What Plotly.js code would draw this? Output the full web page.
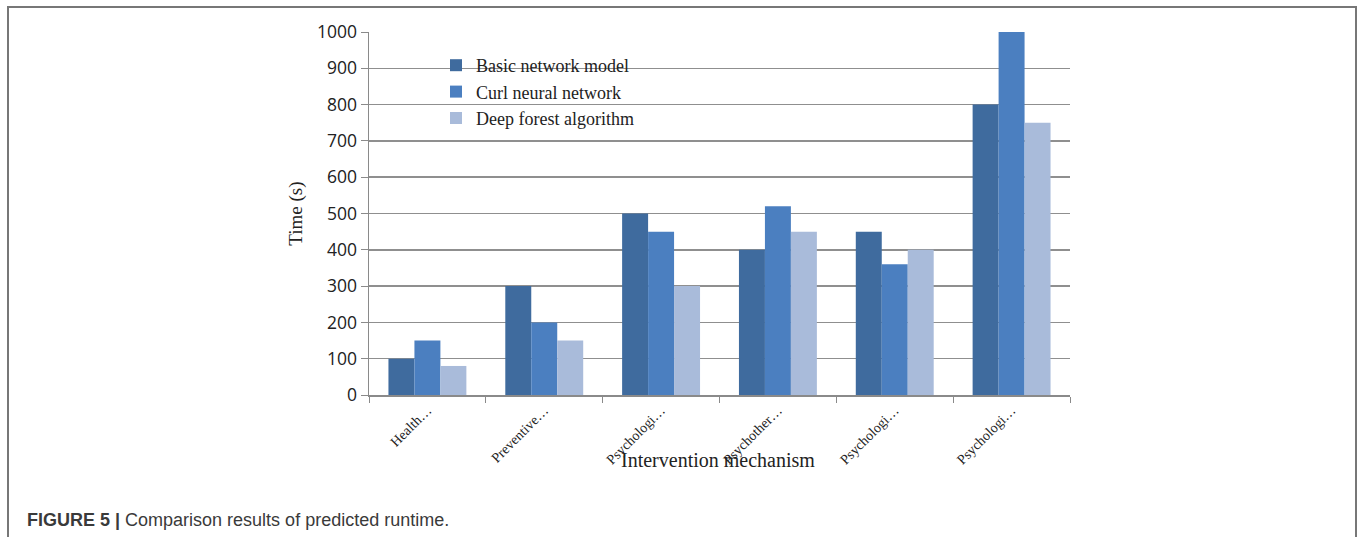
<!DOCTYPE html>
<html>
<head>
<meta charset="utf-8">
<script src="https://cdn.plot.ly/plotly-3.0.1.min.js"></script>
<style>
html,body{margin:0;padding:0;background:#fff;}
#chart{width:1360px;height:537px;}
</style>
</head>
<body>
<div id="chart"></div>
<script>
const categories = ["Health…", "Preventive…", "Psychologi…", "Psychother…", "Psychologi…", "Psychologi…"];
const seriesNames = ["Basic network model", "Curl neural network", "Deep forest algorithm"];
const basicNetwork = [100, 300, 500, 400, 450, 800];
const curlNeural = [150, 200, 450, 520, 360, 1000];
const deepForest = [80, 150, 300, 450, 400, 750];
const yTicks = [0, 100, 200, 300, 400, 500, 600, 700, 800, 900, 1000];
const colors = ["#3F6B9E", "#4B7FC0", "#A9BBDA"];

const ids = categories.map((c, i) => "c" + i);
const values = [basicNetwork, curlNeural, deepForest];
const traces = values.map((v, k) => ({
  type: "bar",
  name: seriesNames[k],
  x: ids,
  y: v,
  marker: {color: colors[k], line: {width: 0}},
  hoverinfo: "y+name"
}));

const L = 369, R = 1070, T = 32, B = 395, W = 1360, H = 537;
const px2x = p => (p - L) / (R - L);
const py2y = p => (B - p) / (B - T);

const layout = {
  width: W, height: H,
  margin: {l: L, r: W - R, t: T, b: H - B, pad: 0},
  paper_bgcolor: "#fff",
  plot_bgcolor: "#fff",
  barmode: "group",
  bargap: 0.333,
  bargroupgap: 0,
  showlegend: true,
  legend: {
    x: px2x(436), y: py2y(47), xanchor: "left", yanchor: "top",
    bgcolor: "rgba(0,0,0,0)",
    font: {family: "Liberation Serif, Times New Roman, serif", size: 18, color: "#222"},
    itemwidth: 30,
    tracegroupgap: 0
  },
  xaxis: {
    type: "category",
    tickmode: "array",
    tickvals: ids,
    ticktext: categories,
    tickangle: -45,
    tickson: "boundaries",
    ticks: "outside",
    ticklen: 6,
    tickcolor: "#8a8a8a",
    showline: true,
    linecolor: "#8a8a8a",
    linewidth: 1.5,
    showgrid: false,
    zeroline: false,
    tickfont: {family: "Liberation Serif, Times New Roman, serif", size: 14, color: "#222"}
  },
  yaxis: {
    range: [0, 1000],
    tickmode: "array",
    tickvals: yTicks,
    ticktext: yTicks.map(String),
    ticks: "outside",
    ticklen: 7,
    tickcolor: "#8a8a8a",
    showline: true,
    linecolor: "#8a8a8a",
    linewidth: 1.5,
    showgrid: true,
    gridcolor: "#8f8f8f",
    gridwidth: 1.5,
    zeroline: false,
    tickfont: {family: "Open Sans, Noto Sans, sans-serif", size: 17.5, color: "#222"},
    title: {text: "Time (s)", standoff: 9, font: {family: "Liberation Serif, Times New Roman, serif", size: 19, color: "#222"}}
  },
  annotations: [
    {
      text: "Intervention mechanism",
      xref: "paper", yref: "paper",
      x: px2x(718), y: py2y(460),
      xanchor: "center", yanchor: "middle",
      showarrow: false,
      font: {family: "Liberation Serif, Times New Roman, serif", size: 20, color: "#222"}
    },
    {
      text: "<b>FIGURE 5 |</b> Comparison results of predicted runtime.",
      xref: "paper", yref: "paper",
      x: px2x(25), y: py2y(520),
      xanchor: "left", yanchor: "middle",
      showarrow: false,
      font: {family: "Liberation Sans, Arial, sans-serif", size: 18, color: "#3a3a3a"}
    }
  ],
  shapes: [
    {
      type: "rect", xref: "paper", yref: "paper",
      x0: px2x(8), x1: px2x(1356), y0: py2y(560), y1: py2y(7),
      line: {color: "#777", width: 2}, fillcolor: "rgba(0,0,0,0)", layer: "below"
    }
  ]
};

Plotly.newPlot("chart", traces, layout, {displayModeBar: false, staticPlot: true});
</script>
</body>
</html>
